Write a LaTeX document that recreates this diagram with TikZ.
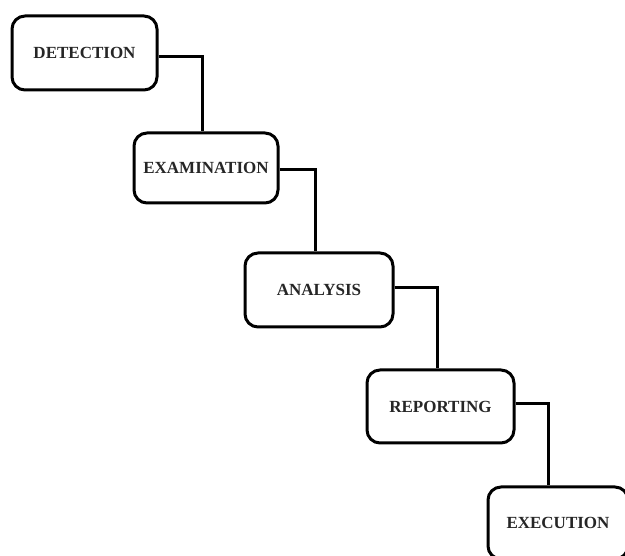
\documentclass[tikz,border=0pt]{standalone}
\usepackage{fontspec}
\setmainfont{Liberation Serif}
\begin{document}
\begin{tikzpicture}[x=1pt,y=-1pt,
  stage/.style={draw=black, line width=3pt, rounded corners=13pt, fill=white,
    font=\fontsize{17}{20}\selectfont\bfseries, text=black!85, inner sep=0pt},
  link/.style={draw=black, line width=3pt}]
\useasboundingbox (0,0) rectangle (625,556);
\clip (0,0) rectangle (625,556);
\node[stage, minimum width=145pt, minimum height=74pt] (a) at (84.5,53) {DETECTION};
\node[stage, minimum width=144pt, minimum height=70pt] (b) at (206,168) {EXAMINATION};
\node[stage, minimum width=148pt, minimum height=74pt] (c) at (319,290) {ANALYSIS};
\node[stage, minimum width=147pt, minimum height=73pt] (d) at (440.5,406.5) {REPORTING};
\node[stage, minimum width=140pt, minimum height=72pt] (e) at (558,523) {EXECUTION};
\draw[link] ([yshift=-4pt]a.east) -| ([xshift=-4pt]b.north);
\draw[link] ([yshift=-2pt]b.east) -| ([xshift=-4pt]c.north);
\draw[link] ([yshift=2pt]c.east) -| ([xshift=-3pt]d.north);
\draw[link] ([yshift=2.5pt]d.east) -| ([xshift=-10pt]e.north);
\end{tikzpicture}
\end{document}
